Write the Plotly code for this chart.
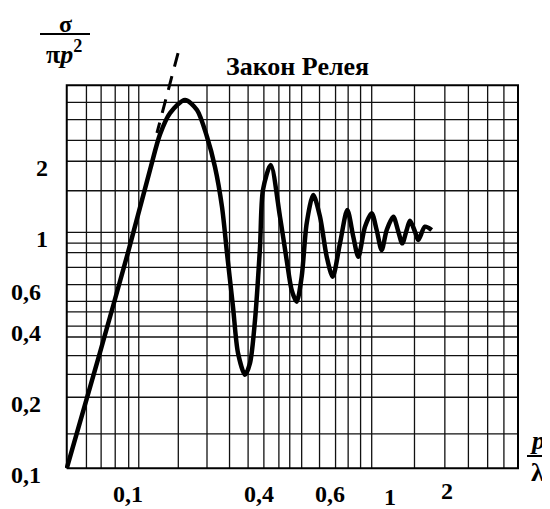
import math
import plotly.graph_objects as go

# ---------------- data ----------------
# normalised radar cross section of a sphere  sigma/(pi p^2)  vs  p/lambda
P_OVER_LAMBDA = [0.0556, 0.0762, 0.0993, 0.1224, 0.1345, 0.1479, 0.1705, 0.1910,
                 0.2101, 0.2265, 0.2421, 0.2538, 0.2687, 0.2817, 0.3010, 0.3156,
                 0.3310, 0.3470, 0.3569, 0.3841, 0.4195, 0.4468, 0.4686, 0.4912,
                 0.5150, 0.5401, 0.5749, 0.6128, 0.6530, 0.6910, 0.7404, 0.7936,
                 0.8400, 0.8808, 0.9384, 1.000, 1.048, 1.099, 1.153, 1.227,
                 1.287, 1.336, 1.393, 1.437, 1.507, 1.555, 1.657, 1.766]
SIGMA_NORM = [0.100, 0.310, 0.820, 1.840, 2.600, 3.200, 3.636, 3.298,
              2.534, 1.891, 1.280, 0.817, 0.483, 0.308, 0.249, 0.279,
              0.425, 0.866, 1.512, 1.929, 1.161, 0.763, 0.569, 0.508,
              0.648, 1.092, 1.439, 1.164, 0.788, 0.648, 0.898, 1.243,
              0.958, 0.788, 1.056, 1.204, 1.023, 0.841, 1.023, 1.164,
              1.006, 0.898, 1.023, 1.120, 1.006, 0.928, 1.056, 1.023]

# dashed continuation of the Rayleigh law
RAYLEIGH_X = [0.1596, 0.1307]
RAYLEIGH_Y = [5.75, 2.635]

# grid of the chart paper
X_GRID = [0.067, 0.077, 0.088, 0.1, 0.11, 0.16, 0.21, 0.26, 0.31, 0.36, 0.415,
          0.46, 0.515, 0.61, 0.71, 0.8, 0.9, 1.0, 1.5, 2.0, 2.5, 3.0, 3.5]
Y_GRID = [0.14, 0.2, 0.25, 0.3, 0.36, 0.4, 0.46, 0.51, 0.6, 0.71, 0.82, 0.9,
          1.0, 1.5, 2.0, 2.45, 3.0, 3.55]
X_FRAME = [0.0556, 4.0]
Y_FRAME = [0.1, 4.2]

X_TICK_LABELS = ["0,1", "0,4", "0,6", "1", "2"]
Y_TICK_VALUES = [0.1, 0.2, 0.4, 0.6, 1, 2]
Y_TICK_LABELS = ["0,1", "0,2", "0,4", "0,6", "1", "2"]
TITLE = "Закон Релея"

# ---------------- layout helpers ----------------
OFF = 8                      # default page margin of the html body
W, H = 550 - OFF, 509 - OFF
PW, PH = 455, 425
ML, MT = 65 - OFF, 45 - OFF
MR, MB = W - ML - PW, H - MT - PH


def px(x):
    """reference-picture pixel x -> paper x"""
    return (x - OFF - ML) / PW


def py(y):
    """reference-picture pixel y -> paper y"""
    return (H - MB - (y - OFF)) / PH


FONT = "Liberation Serif, Times New Roman, serif"
TICK_SIZE = 24

fig = go.Figure()

# grid
gx, gy = [], []
for v in X_GRID:
    gx += [v, v, None]
    gy += [Y_FRAME[0], Y_FRAME[1], None]
for v in Y_GRID:
    gx += [X_FRAME[0], X_FRAME[1], None]
    gy += [v, v, None]
fig.add_trace(go.Scatter(x=gx, y=gy, mode="lines",
                         line=dict(color="#111", width=1.3),
                         hoverinfo="skip", showlegend=False))
# frame
fig.add_trace(go.Scatter(x=[X_FRAME[0], X_FRAME[1], X_FRAME[1], X_FRAME[0], X_FRAME[0]],
                         y=[Y_FRAME[0], Y_FRAME[0], Y_FRAME[1], Y_FRAME[1], Y_FRAME[0]],
                         mode="lines", line=dict(color="#000", width=2),
                         hoverinfo="skip", showlegend=False))
# curve
fig.add_trace(go.Scatter(x=P_OVER_LAMBDA, y=SIGMA_NORM, mode="lines",
                         line=dict(color="#000", width=4.5, shape="spline", smoothing=0.8),
                         showlegend=False))
# Rayleigh dashed line
fig.add_trace(go.Scatter(x=RAYLEIGH_X, y=RAYLEIGH_Y, mode="lines",
                         line=dict(color="#000", width=3, dash="14px,10px"),
                         showlegend=False))

ann = []
# x tick labels (positions as printed in the reference)
x_lab_px = [128, 259, 330, 390, 447]
x_lab_py = [494, 494, 494, 497, 491]
for t, xx, yy in zip(X_TICK_LABELS, x_lab_px, x_lab_py):
    ann.append(dict(text=t, x=px(xx), y=py(yy), xref="paper", yref="paper",
                    xanchor="center", yanchor="middle", showarrow=False,
                    font=dict(size=TICK_SIZE)))
# y tick labels
y_lab_right = [43, 43, 43, 43, 50, 50]
for t, v, xr in zip(Y_TICK_LABELS, Y_TICK_VALUES, y_lab_right):
    ann.append(dict(text=t, x=px(xr), y=math.log10(v), xref="paper", yref="y",
                    xanchor="right", yanchor="middle", yshift=-7, showarrow=False,
                    font=dict(size=TICK_SIZE)))
# title
ann.append(dict(text=TITLE, x=px(297), y=py(66), xref="paper", yref="paper",
                xanchor="center", yanchor="middle", showarrow=False,
                font=dict(size=26)))
# y axis label  sigma / (pi p^2)
ann.append(dict(text="σ", x=px(65), y=py(9), xref="paper", yref="paper",
                xanchor="center", yanchor="top", showarrow=False,
                font=dict(size=24)))
ann.append(dict(text="π<i>p</i><sup>2</sup>", x=px(64), y=py(52), xref="paper", yref="paper",
                xanchor="center", yanchor="middle", showarrow=False))
# x axis label  p / lambda
ann.append(dict(text="<i>p</i>", x=px(537), y=py(440), xref="paper", yref="paper",
                xanchor="center", yanchor="middle", showarrow=False))
ann.append(dict(text="λ", x=px(537), y=py(472), xref="paper", yref="paper",
                xanchor="center", yanchor="middle", showarrow=False))

shapes = [
    dict(type="line", xref="paper", yref="paper", x0=px(40), x1=px(90), y0=py(34), y1=py(34),
         line=dict(color="#000", width=2)),
    dict(type="line", xref="paper", yref="paper", x0=px(527), x1=px(549), y0=py(456), y1=py(456),
         line=dict(color="#000", width=2)),
]

# axis ranges so that one decade spans 243 px (x) and 236 px (y) as in the reference
x_lo = (65 - 371.7) / 243.0
x_hi = (65 + PW - 371.7) / 243.0
y_lo = (232.3 - (45 + PH)) / 236.0
y_hi = (232.3 - 45) / 236.0

fig.update_layout(
    width=W, height=H,
    margin=dict(l=ML, r=MR, t=MT, b=MB, autoexpand=False),
    paper_bgcolor="white", plot_bgcolor="white",
    font=dict(family=FONT, size=26, color="#000", weight="bold"),
    annotations=ann, shapes=shapes,
    xaxis=dict(type="log", range=[x_lo, x_hi], showgrid=False, zeroline=False,
               showline=False, showticklabels=False, ticks=""),
    yaxis=dict(type="log", range=[y_lo, y_hi], showgrid=False, zeroline=False,
               showline=False, showticklabels=False, ticks=""),
)

fig.write_html("out.html")
